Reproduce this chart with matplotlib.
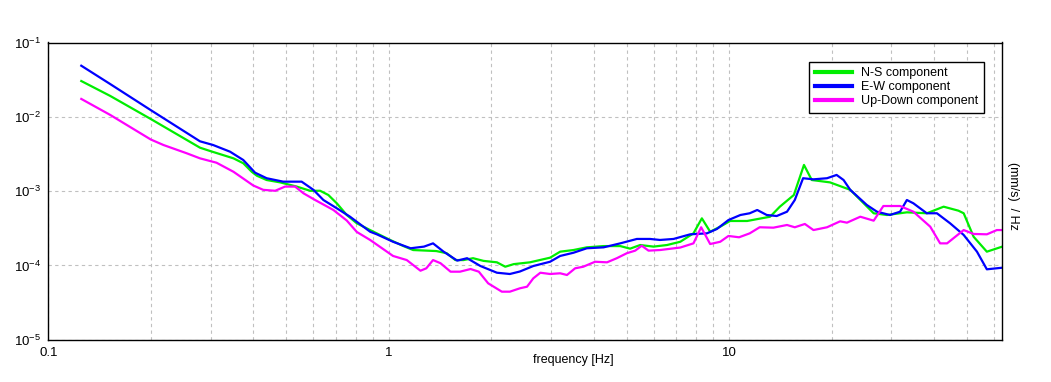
import matplotlib
matplotlib.use('Agg')
import matplotlib.pyplot as plt
from matplotlib.ticker import LogLocator, NullLocator, NullFormatter

plt.rcParams['font.family'] = ['Liberation Sans', 'DejaVu Sans']

# N-S component
ns_freq = [0.125, 0.152, 0.200, 0.279, 0.299, 0.350, 0.374, 0.396, 0.410, 0.438,
           0.480, 0.537, 0.588, 0.629, 0.665, 0.704, 0.753, 0.806, 0.882, 1.01,
           1.105, 1.18, 1.38, 1.48, 1.57, 1.66, 1.77, 1.90, 2.08, 2.20,
           2.33, 2.60, 2.98, 3.19, 3.49, 3.82, 4.28, 4.79, 5.12, 5.48,
           6.00, 6.57, 7.19, 7.86, 8.32, 8.80, 9.42, 10.07, 11.3, 13.2,
           14.1, 15.5, 16.6, 17.5, 19.8, 22.7, 26.6, 29.1, 33.3, 38.1,
           42.7, 47.2, 48.9, 52.3, 57.2, 63.5]
ns_psd = [3.03e-2, 1.91e-2, 9.34e-3, 3.84e-3, 3.46e-3, 2.76e-3, 2.37e-3, 1.82e-3, 1.61e-3, 1.41e-3,
          1.31e-3, 1.15e-3, 1.01e-3, 1.01e-3, 8.86e-4, 6.85e-4, 4.77e-4, 3.69e-4, 2.99e-4, 2.20e-4,
          1.82e-4, 1.61e-4, 1.56e-4, 1.46e-4, 1.18e-4, 1.18e-4, 1.25e-4, 1.15e-4, 1.10e-4, 9.6e-5,
          1.04e-4, 1.10e-4, 1.27e-4, 1.53e-4, 1.61e-4, 1.75e-4, 1.82e-4, 1.82e-4, 1.68e-4, 1.88e-4,
          1.79e-4, 1.88e-4, 2.08e-4, 2.70e-4, 4.30e-4, 2.84e-4, 3.32e-4, 3.96e-4, 3.96e-4, 4.52e-4,
          6.17e-4, 8.86e-4, 2.25e-3, 1.41e-3, 1.31e-3, 1.04e-3, 5.03e-4, 4.77e-4, 5.18e-4, 5.03e-4,
          6.17e-4, 5.45e-4, 5.03e-4, 2.43e-4, 1.53e-4, 1.79e-4]

# E-W component
ew_freq = [0.125, 0.152, 0.200, 0.279, 0.305, 0.342, 0.374, 0.405, 0.438, 0.490,
           0.555, 0.601, 0.643, 0.704, 0.770, 0.882, 0.923, 1.03, 1.16, 1.27,
           1.35, 1.45, 1.59, 1.70, 1.86, 2.08, 2.27, 2.43, 2.66, 2.98,
           3.19, 3.49, 3.82, 4.28, 4.79, 5.36, 5.86, 6.27, 6.87, 7.69,
           8.61, 9.21, 9.96, 10.8, 11.5, 12.1, 12.9, 13.8, 14.8, 15.6,
           16.5, 17.7, 19.4, 20.7, 21.7, 22.7, 25.4, 27.2, 29.7, 31.8,
           33.3, 34.8, 38.1, 40.8, 44.6, 48.9, 53.5, 57.2, 63.5]
ew_psd = [4.87e-2, 2.76e-2, 1.23e-2, 4.68e-3, 4.17e-3, 3.39e-3, 2.62e-3, 1.77e-3, 1.49e-3, 1.34e-3,
          1.34e-3, 1.04e-3, 7.59e-4, 5.87e-4, 4.52e-4, 2.84e-4, 2.62e-4, 2.08e-4, 1.70e-4, 1.79e-4,
          1.98e-4, 1.53e-4, 1.16e-4, 1.25e-4, 9.81e-5, 7.97e-5, 7.66e-5, 8.28e-5, 9.81e-5, 1.12e-4,
          1.34e-4, 1.48e-4, 1.70e-4, 1.75e-4, 1.98e-4, 2.27e-4, 2.27e-4, 2.20e-4, 2.27e-4, 2.62e-4,
          2.70e-4, 3.09e-4, 4.08e-4, 4.77e-4, 5.03e-4, 5.57e-4, 4.77e-4, 4.62e-4, 5.28e-4, 7.59e-4,
          1.49e-3, 1.44e-3, 1.49e-3, 1.65e-3, 1.41e-3, 1.04e-3, 6.50e-4, 5.28e-4, 4.77e-4, 5.28e-4,
          7.59e-4, 6.85e-4, 5.03e-4, 5.03e-4, 3.69e-4, 2.57e-4, 1.53e-4, 8.86e-5, 9.31e-5]

# Up-Down component
ud_freq = [0.125, 0.152, 0.200, 0.218, 0.255, 0.279, 0.312, 0.350, 0.400, 0.428,
           0.464, 0.496, 0.531, 0.562, 0.608, 0.688, 0.753, 0.806, 0.882, 1.03,
           1.13, 1.24, 1.29, 1.35, 1.42, 1.52, 1.62, 1.74, 1.84, 1.96,
           2.15, 2.27, 2.43, 2.55, 2.66, 2.79, 2.98, 3.19, 3.34, 3.53,
           3.73, 4.04, 4.38, 4.68, 5.01, 5.30, 5.54, 5.80, 6.27, 7.19,
           7.86, 8.28, 8.80, 9.42, 9.96, 10.7, 11.5, 12.3, 13.5, 14.8,
           15.6, 16.7, 17.7, 19.4, 21.2, 22.2, 24.3, 26.6, 28.4, 31.8,
           34.8, 39.0, 41.7, 43.7, 48.9, 52.3, 57.2, 61.2, 63.5]
ud_psd = [1.74e-2, 1.06e-2, 4.95e-3, 4.17e-3, 3.23e-3, 2.76e-3, 2.41e-3, 1.82e-3, 1.19e-3, 1.04e-3,
          1.01e-3, 1.15e-3, 1.15e-3, 9.34e-4, 7.59e-4, 5.57e-4, 4.02e-4, 2.82e-4, 2.20e-4, 1.34e-4,
          1.18e-4, 8.48e-5, 9.14e-5, 1.18e-4, 1.07e-4, 8.23e-5, 8.23e-5, 8.94e-5, 8.23e-5, 5.74e-5,
          4.43e-5, 4.43e-5, 4.92e-5, 5.17e-5, 6.70e-5, 7.97e-5, 7.66e-5, 7.83e-5, 7.43e-5, 9.14e-5,
          9.60e-5, 1.12e-4, 1.10e-4, 1.25e-4, 1.46e-4, 1.58e-4, 1.84e-4, 1.58e-4, 1.61e-4, 1.74e-4,
          1.98e-4, 3.26e-4, 1.94e-4, 2.08e-4, 2.49e-4, 2.39e-4, 2.70e-4, 3.26e-4, 3.22e-4, 3.50e-4,
          3.26e-4, 3.61e-4, 2.99e-4, 3.26e-4, 3.92e-4, 3.76e-4, 4.52e-4, 4.00e-4, 6.30e-4, 6.30e-4,
          5.28e-4, 3.32e-4, 1.98e-4, 1.98e-4, 2.99e-4, 2.65e-4, 2.62e-4, 2.99e-4, 2.99e-4]

x_ticks = [0.1, 1, 10]
x_labels = ['0.1', '1', '10']
y_ticks = [1e-5, 1e-4, 1e-3, 1e-2, 1e-1]
y_labels = ['$\\mathregular{10^{-5}}$', '$\\mathregular{10^{-4}}$', '$\\mathregular{10^{-3}}$',
            '$\\mathregular{10^{-2}}$', '$\\mathregular{10^{-1}}$']

fig = plt.figure(figsize=(10.51, 3.82), dpi=100)
ax = fig.add_axes([48.3 / 1051, 1 - 339.7 / 382, 954.0 / 1051, 297.2 / 382])

ax.plot(ns_freq, ns_psd, color='#00ee00', lw=1.6, label='N-S component')
ax.plot(ew_freq, ew_psd, color='#0000ff', lw=1.6, label='E-W component')
ax.plot(ud_freq, ud_psd, color='#ff00ff', lw=1.6, label='Up-Down component')

ax.set_xscale('log')
ax.set_yscale('log')
ax.set_xlim(0.1, 63.5)
ax.set_ylim(1e-5, 1e-1)

ax.set_xticks(x_ticks)
ax.set_xticklabels(x_labels)
ax.xaxis.set_minor_locator(LogLocator(base=10, subs=range(2, 10)))
ax.xaxis.set_minor_formatter(NullFormatter())
ax.set_yticks(y_ticks)
ax.set_yticklabels(y_labels)
ax.yaxis.set_minor_locator(NullLocator())
ax.tick_params(which='both', length=0, labelsize=9.5, colors='black')
ax.tick_params(axis='x', pad=5)
ax.tick_params(axis='y', pad=5)

grid_style = dict(color='#c0c0c0', linestyle=(0, (3, 3)), linewidth=0.8)
ax.grid(True, which='both', axis='x', **grid_style)
ax.grid(True, which='major', axis='y', **grid_style)
ax.set_axisbelow(True)
for sp in ax.spines.values():
    sp.set_linewidth(1.0)
    sp.set_color('black')

fig.text(573 / 1051, 1 - 360 / 382, 'frequency [Hz]', ha='center', va='center', fontsize=9)
fig.text(1013 / 1051, 1 - 196 / 382, '(mm/s)  / Hz', ha='center', va='center',
         rotation=270, fontsize=9)

leg = ax.legend(loc='upper right', bbox_to_anchor=(984 / 1051, 1 - 61.7 / 382),
                bbox_transform=fig.transFigure, borderaxespad=0, fontsize=9,
                fancybox=False, framealpha=1, edgecolor='black', handlelength=3.0,
                handletextpad=0.7, labelspacing=0.15, borderpad=0.45)
leg.get_frame().set_linewidth(1.0)
for h in leg.legend_handles:
    h.set_linewidth(3.0)

fig.savefig('out.png', dpi=100)
